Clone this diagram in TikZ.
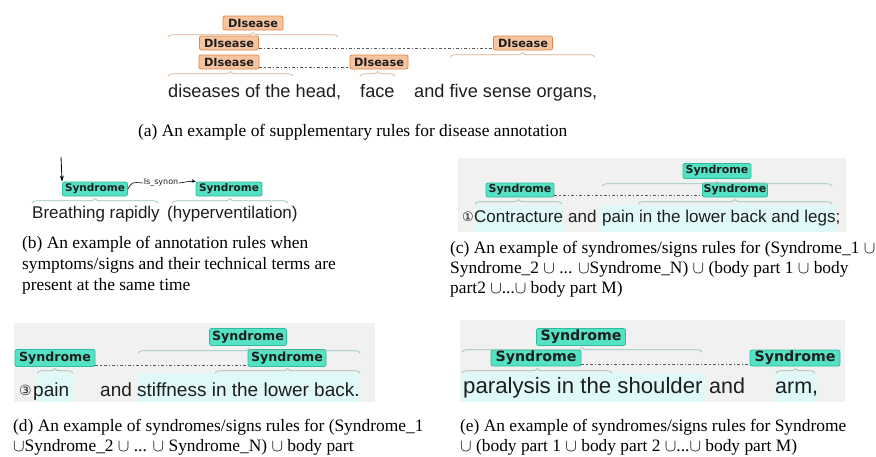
\documentclass[tikz,border=0pt]{standalone}
\usepackage{fontspec}
\setmainfont{Liberation Serif}
\setsansfont{Liberation Sans}
\newfontfamily\djv{DejaVu Sans}
\usetikzlibrary{decorations.pathreplacing,arrows.meta}
\definecolor{disfill}{HTML}{F7C4A0}
\definecolor{disline}{HTML}{E2874A}
\definecolor{disbrace}{HTML}{D9AE90}
\definecolor{synfill}{HTML}{55E2C4}
\definecolor{synline}{HTML}{30BC9E}
\definecolor{synbrace}{HTML}{8FC4B6}
\definecolor{bggrey}{HTML}{F1F1F1}
\definecolor{hlcyan}{HTML}{DFF8F8}
\definecolor{ink}{HTML}{1E1E1E}
\tikzset{
  lab/.style={draw, rounded corners=2pt, line width=0.8pt, inner sep=0pt, anchor=center, text=ink},
  dis/.style={lab, fill=disfill, draw=disline, minimum height=14pt, font=\djv\bfseries\fontsize{11.3}{11.3}\selectfont},
  syn/.style={lab, fill=synfill, draw=synline},
  dbrc/.style={decorate, decoration={brace, amplitude=4.5pt}, line width=0.7pt, draw=disbrace},
  sbrc/.style={decorate, decoration={brace, amplitude=4.5pt}, line width=0.7pt, draw=synbrace},
  dotl/.style={line width=1.1pt, draw=black!65, dash pattern=on 3pt off 2pt on 1.2pt off 2pt},
  tx/.style={anchor=base west, inner sep=0pt, text=ink},
  captxt/.style={anchor=base west, inner sep=0pt, font=\fontsize{17.4}{21}\selectfont, text=black},
  hl/.style={fill=hlcyan, draw=none},
  bg/.style={fill=bggrey, draw=none}
}
\begin{document}
\begin{tikzpicture}[x=1pt,y=-1pt]
\useasboundingbox (0,0) rectangle (876,456);
\fill[white] (0,0) rectangle (876,456);

% ---------------- (a)
\node[dis, minimum width=60pt] (a1) at (253,23) {DIsease};
\node[dis, minimum width=59pt] (a2) at (229,43) {DIsease};
\node[dis, minimum width=59pt] (a3) at (523,43) {DIsease};
\node[dis, minimum width=60pt] (a4) at (229,62) {DIsease};
\node[dis, minimum width=58pt] (a5) at (379,62) {DIsease};
\draw[dotl] ([yshift=1.5pt]a2.south east) -- ([yshift=1.5pt]a3.south west);
\draw[dotl] ([yshift=1.5pt]a4.south east) -- ([yshift=1.5pt]a5.south west);
\draw[dbrc] (168,37) -- (338,37);
\draw[dbrc] (450,57) -- (595,57);
\draw[dbrc] (168,76) -- (293,76);
\draw[dbrc] (360,76) -- (395,76);
\node[tx, font=\sffamily\fontsize{18.2}{18}\selectfont] (ta1) at (168,97) {diseases of the head,};
\node[tx, font=\sffamily\fontsize{18.2}{18}\selectfont] (ta2) at (360,97) {face};
\node[tx, font=\sffamily\fontsize{18.2}{18}\selectfont] (ta3) at (414,97) {and five sense organs,};
\node[captxt] (capa) at (138,136) {(a) An example of supplementary rules for disease annotation};

% ---------------- (b)
\node[syn, minimum width=65pt, minimum height=14pt, font=\djv\bfseries\fontsize{10.5}{10.5}\selectfont] (b1) at (95,189) {Syndrome};
\node[syn, minimum width=66pt, minimum height=14pt, font=\djv\bfseries\fontsize{10.5}{10.5}\selectfont] (b2) at (229,189) {Syndrome};
\node[inner sep=0.5pt, font=\djv\fontsize{8}{8}\selectfont, text=ink] (rel) at (161,183) {Is\_synon};
\coordinate (btop) at (61,157);
\draw[-{Stealth[length=6pt,width=4pt]}, line width=0.8pt] (btop) -- (b1.north west);
\draw[line width=0.6pt] (b1.east) .. controls (132,182) .. (rel.west);
\draw[line width=0.6pt, -{Stealth[length=4pt,width=3.5pt]}] (rel.east) .. controls (192,181) .. (b2.north west);
\draw[sbrc] (32,203) -- (158,203);
\draw[sbrc] (172,203) -- (288,203);
\node[tx, font=\sffamily\fontsize{17}{17}\selectfont] (tb1) at (32,218) {Breathing rapidly};
\node[tx, font=\sffamily\fontsize{17}{17}\selectfont] (tb2) at (167,218) {(hyperventilation)};
\node[captxt] (capb1) at (22,248) {(b) An example of annotation rules when};
\node[captxt] (capb2) at (22,269) {symptoms/signs and their technical terms are};
\node[captxt] (capb3) at (22,290) {present at the same time};

% ---------------- (c)
\fill[bg] (458,158) rectangle (846,232);
\fill[hl] (475,205) rectangle (564,232);
\fill[hl] (600,205) rectangle (835,232);
\node[syn, minimum width=68pt, minimum height=15pt, font=\djv\bfseries\fontsize{11}{11}\selectfont] (c1) at (717,171) {Syndrome};
\node[syn, minimum width=68pt, minimum height=14pt, font=\djv\bfseries\fontsize{11}{11}\selectfont] (c2) at (520,190) {Syndrome};
\node[syn, minimum width=65pt, minimum height=14pt, font=\djv\bfseries\fontsize{11}{11}\selectfont] (c3) at (735,190) {Syndrome};
\draw[dotl] ([yshift=1.5pt]c2.south east) -- ([yshift=1.5pt]c3.south west);
\draw[sbrc] (602,186) -- (832,186);
\draw[sbrc] (475,204) -- (562,204);
\draw[sbrc] (638,204) -- (832,204);
\node[tx, font=\djv\fontsize{13}{13}\selectfont] (tc0) at (462,221) {①};
\node[tx, font=\sffamily\fontsize{17}{17}\selectfont] (tc1) at (474,222) {Contracture};
\node[tx, font=\sffamily\fontsize{17}{17}\selectfont] (tc2) at (568,222) {and};
\node[tx, font=\sffamily\fontsize{17}{17}\selectfont] (tc3) at (602,222) {pain in the lower back and legs;};
\node[captxt] (capc1) at (450,253) {(c) An example of syndromes/signs rules for (Syndrome\_1 $\cup$};
\node[captxt] (capc2) at (450,273) {Syndrome\_2 $\cup$ ... $\cup$Syndrome\_N) $\cup$ (body part 1 $\cup$ body};
\node[captxt] (capc3) at (450,293) {part2 $\cup$...$\cup$ body part M)};

% ---------------- (d)
\fill[bg] (14,323) rectangle (375,402);
\fill[hl] (37,373) rectangle (73,402);
\fill[hl] (137,373) rectangle (360,402);
\node[syn, minimum width=77pt, minimum height=17pt, font=\djv\bfseries\fontsize{12.6}{12.6}\selectfont] (d1) at (248,337) {Syndrome};
\node[syn, minimum width=80pt, minimum height=17pt, font=\djv\bfseries\fontsize{12.6}{12.6}\selectfont] (d2) at (55,358) {Syndrome};
\node[syn, minimum width=78pt, minimum height=17pt, font=\djv\bfseries\fontsize{12.6}{12.6}\selectfont] (d3) at (287,358) {Syndrome};
\draw[dotl] ([yshift=1.5pt]d2.south east) -- ([yshift=1.5pt]d3.south west);
\draw[sbrc] (138,353) -- (360,353);
\draw[sbrc] (37,373) -- (73,373);
\draw[sbrc] (215,373) -- (360,373);
\node[tx, font=\djv\fontsize{14}{14}\selectfont] (td0) at (19,395) {③};
\node[tx, font=\sffamily\fontsize{19}{19}\selectfont] (td1) at (33,396) {pain};
\node[tx, font=\sffamily\fontsize{19}{19}\selectfont] (td2) at (100,396) {and};
\node[tx, font=\sffamily\fontsize{19}{19}\selectfont] (td3) at (137,396) {stiffness in the lower back.};
\node[captxt] (capd1) at (13,431.5) {(d) An example of syndromes/signs rules for (Syndrome\_1};
\node[captxt] (capd2) at (13,451.7) {$\cup$Syndrome\_2 $\cup$ ... $\cup$ Syndrome\_N) $\cup$ body part};

% ---------------- (e)
\fill[bg] (460,320) rectangle (845,402);
\fill[hl] (462,373) rectangle (705,402);
\fill[hl] (775,373) rectangle (818,402);
\node[syn, minimum width=89pt, minimum height=17pt, font=\djv\bfseries\fontsize{14.2}{14.2}\selectfont] (e1) at (581,337) {Syndrome};
\node[syn, minimum width=90pt, minimum height=16pt, font=\djv\bfseries\fontsize{14.2}{14.2}\selectfont] (e2) at (536,358) {Syndrome};
\node[syn, minimum width=90pt, minimum height=16pt, font=\djv\bfseries\fontsize{14.2}{14.2}\selectfont] (e3) at (795,358) {Syndrome};
\draw[dotl] ([yshift=1.5pt]e2.south east) -- ([yshift=1.5pt]e3.south west);
\draw[sbrc] (462,352) -- (702,352);
\draw[sbrc] (462,373) -- (612,373);
\draw[sbrc] (776,373) -- (815,373);
\node[tx, font=\sffamily\fontsize{22.2}{22}\selectfont] (te1) at (463,393) {paralysis in the shoulder};
\node[tx, font=\sffamily\fontsize{21.5}{21.5}\selectfont] (te2) at (709,393) {and};
\node[tx, font=\sffamily\fontsize{21.5}{21.5}\selectfont] (te3) at (775,393) {arm,};
\node[captxt] (cape1) at (460,431.5) {(e) An example of syndromes/signs rules for Syndrome};
\node[captxt] (cape2) at (460,451.7) {$\cup$ (body part 1 $\cup$ body part 2 $\cup$...$\cup$ body part M)};
\end{tikzpicture}
\end{document}
